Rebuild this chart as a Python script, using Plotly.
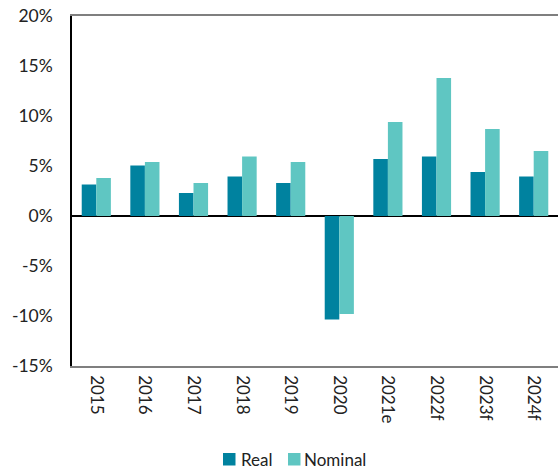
import plotly.graph_objects as go

years = ["2015", "2016", "2017", "2018", "2019", "2020", "2021e", "2022f", "2023f", "2024f"]
real = [3.15, 5.05, 2.3, 3.95, 3.3, -10.35, 5.7, 5.95, 4.4, 3.95]
nominal = [3.8, 5.4, 3.3, 5.95, 5.4, -9.8, 9.4, 13.8, 8.7, 6.5]

y_tick_values = [-15, -10, -5, 0, 5, 10, 15, 20]
y_tick_labels = ["-15%", "-10%", "-5%", "0%", "5%", "10%", "15%", "20%"]

REAL_COLOR = "#00829F"
NOMINAL_COLOR = "#5FC6C2"
TEXT_COLOR = "#222222"
FONT = "Lato, 'Open Sans', sans-serif"

W, H = 558, 469
M_L, M_R, M_T, M_B = 72, 0, 16, 103
PLOT_W = W - M_L - M_R
PLOT_H = H - M_T - M_B


def px_x(px):
    return (px - M_L) / PLOT_W


def px_y(py):
    return (H - M_B - py) / PLOT_H


fig = go.Figure()
fig.add_trace(go.Bar(x=years, y=real, name="Real", marker=dict(color=REAL_COLOR, line=dict(width=0))))
fig.add_trace(go.Bar(x=years, y=nominal, name="Nominal", marker=dict(color=NOMINAL_COLOR, line=dict(width=0))))

# Legend drawn as swatches plus labels, with the label tight against its swatch
legend_items = [
    ("Real", REAL_COLOR, 223, 240),
    ("Nominal", NOMINAL_COLOR, 288, 303),
]
for label, color, sw_left, txt_left in legend_items:
    fig.add_shape(
        type="rect", xref="paper", yref="paper",
        x0=px_x(sw_left), x1=px_x(sw_left + 12.5),
        y0=px_y(465.5), y1=px_y(453),
        fillcolor=color, line=dict(width=0), layer="above",
    )
    fig.add_annotation(
        text=label, xref="paper", yref="paper",
        x=px_x(txt_left), y=px_y(459.5),
        xanchor="left", yanchor="middle", showarrow=False,
        borderpad=0, font=dict(family=FONT, size=17, color=TEXT_COLOR),
    )

fig.update_layout(
    width=W,
    height=H,
    margin=dict(l=M_L, r=M_R, t=M_T, b=M_B),
    paper_bgcolor="white",
    plot_bgcolor="white",
    barmode="group",
    bargap=0.4,
    bargroupgap=0,
    font=dict(family=FONT, size=17, color=TEXT_COLOR),
    showlegend=False,
    xaxis=dict(
        tickangle=90,
        showline=True,
        linecolor="#7f7f7f",
        linewidth=1.5,
        mirror=True,
        ticks="",
        showgrid=False,
        ticklabelstandoff=4,
        tickfont=dict(size=17),
    ),
    yaxis=dict(
        range=[-15, 20],
        tickvals=y_tick_values,
        ticktext=y_tick_labels,
        showgrid=False,
        zeroline=True,
        zerolinecolor="#000000",
        zerolinewidth=1.5,
        showline=True,
        linecolor="#000000",
        linewidth=1.5,
        ticks="",
        ticklabelstandoff=14,
        tickfont=dict(size=17.5),
    ),
)

fig.write_html("out.html")
